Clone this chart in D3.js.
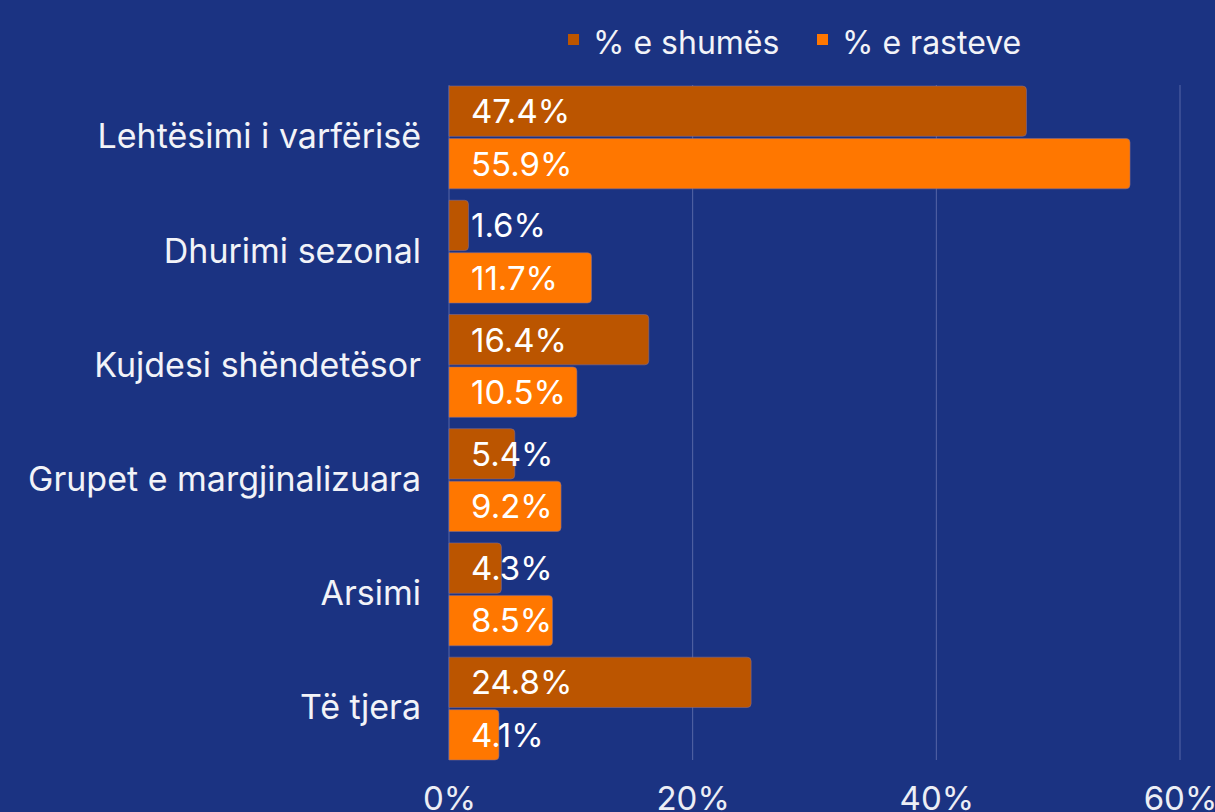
<!DOCTYPE html>
<html><head><meta charset="utf-8">
<script src="https://cdn.jsdelivr.net/npm/d3@7"></script>
<style>
html,body{margin:0;padding:0;background:#1b3382;}
svg{display:block;font-family:"Inter","Open Sans",sans-serif;}
</style></head>
<body>
<svg id="chart" width="1215" height="812"></svg>
<script>
const categories = ["Lehtësimi i varfërisë","Dhurimi sezonal","Kujdesi shëndetësor","Grupet e margjinalizuara","Arsimi","Të tjera"];
const seriesNames = ["% e shumës","% e rasteve"];
const shumes = [47.4, 1.6, 16.4, 5.4, 4.3, 24.8];
const rasteve = [55.9, 11.7, 10.5, 9.2, 8.5, 4.1];
const xTicks = [0, 20, 40, 60];
const colors = ["#bb5500", "#ff7700"];

const FONT = "Inter, 'Open Sans', sans-serif";
const svg = d3.select("#chart");
const W = 1215, H = 812;
svg.append("rect").attr("width", W).attr("height", H).attr("fill", "#1b3382");

const x = d3.scaleLinear().domain([0, 60]).range([449, 1180]);
const y = d3.scaleBand().domain(categories).range([86, 760]).paddingInner(0.1).paddingOuter(0);
const ySub = d3.scaleBand().domain(seriesNames).range([0, y.bandwidth()]).paddingInner(0.04);

// gridlines
svg.append("g").selectAll("line").data(xTicks).join("line")
  .attr("x1", d => x(d)).attr("x2", d => x(d))
  .attr("y1", 85).attr("y2", 760)
  .attr("stroke", "#5766a6").attr("stroke-width", 1);

// x axis labels
const xAxis = d3.axisBottom(x).tickValues(xTicks).tickFormat(d => d + "%").tickSize(0).tickPadding(0);
const xg = svg.append("g").attr("transform", "translate(0,786)").call(xAxis);
xg.select(".domain").remove();
xg.selectAll("text").attr("font-size", 33).attr("fill", "#eceef5").attr("font-family", FONT).attr("dy", "0.74em");

// y axis labels
const yAxis = d3.axisLeft(y).tickSize(0).tickPadding(0);
const yg = svg.append("g").attr("transform", "translate(421,0)").call(yAxis);
yg.select(".domain").remove();
yg.selectAll("text").attr("font-size", 34).attr("fill", "#f2f3f8").attr("font-family", FONT);

function barPath(x0, y0, w, h, r) {
  r = Math.min(r, w, h / 2);
  return `M${x0},${y0}H${x0 + w - r}Q${x0 + w},${y0} ${x0 + w},${y0 + r}V${y0 + h - r}Q${x0 + w},${y0 + h} ${x0 + w - r},${y0 + h}H${x0}Z`;
}

const rows = [];
categories.forEach((c, i) => {
  rows.push({cat: c, s: seriesNames[0], v: shumes[i], color: colors[0]});
  rows.push({cat: c, s: seriesNames[1], v: rasteve[i], color: colors[1]});
});

const bars = svg.append("g");
bars.selectAll("path").data(rows).join("path")
  .attr("d", d => barPath(x(0), y(d.cat) + ySub(d.s), x(d.v) - x(0), ySub.bandwidth(), 4))
  .attr("fill", d => d.color)
  .attr("stroke", "rgba(130,110,150,0.55)").attr("stroke-width", 1);

bars.selectAll("text").data(rows).join("text")
  .attr("x", x(0) + 22)
  .attr("y", d => y(d.cat) + ySub(d.s) + ySub.bandwidth() / 2)
  .attr("dy", "0.36em")
  .attr("font-size", 33)
  .attr("fill", "#ffffff")
  .text(d => d.v.toFixed(1) + "%");

// legend
const legend = svg.append("g");
const legX = [568, 817];
seriesNames.forEach((n, i) => {
  legend.append("rect").attr("x", legX[i]).attr("y", 34).attr("width", 11).attr("height", 11).attr("fill", colors[i]);
  legend.append("text").attr("x", legX[i] + 25).attr("y", 42).attr("dy", "0.36em")
    .attr("font-size", 32).attr("fill", "#f2f3f8").text(n);
});
</script>
</body></html>
